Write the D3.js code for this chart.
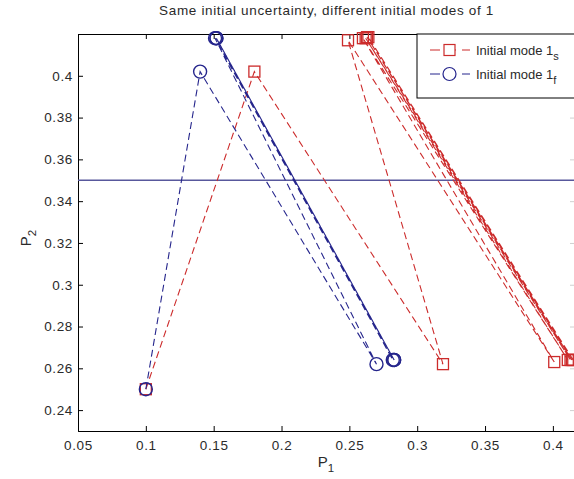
<!DOCTYPE html>
<html><head><meta charset="utf-8">
<script src="https://cdn.jsdelivr.net/npm/d3@7"></script>
<style>
html,body{margin:0;padding:0;background:#fff;}
svg{display:block;font-family:"Liberation Sans",Arial,sans-serif;}
</style></head><body>
<svg id="chart" width="574" height="479"></svg>
<script>
// Axis ticks
const xTicks = [0.05, 0.1, 0.15, 0.2, 0.25, 0.3, 0.35, 0.4];
const yTicks = [0.24, 0.26, 0.28, 0.3, 0.32, 0.34, 0.36, 0.38, 0.4];
const xDomain = [0.05, 0.4163];
const yDomain = [0.23, 0.42];

// Trajectory starting in mode 1_s
const slowP1 = [0.1, 0.18, 0.319, 0.249, 0.401, 0.260, 0.411, 0.262, 0.413, 0.263, 0.414, 0.264, 0.415];
const slowP2 = [0.25, 0.402, 0.262, 0.417, 0.263, 0.418, 0.264, 0.418, 0.264, 0.4185, 0.264, 0.4185, 0.264];
// Trajectory starting in mode 1_f
const fastP1 = [0.1, 0.14, 0.27, 0.151, 0.282, 0.152, 0.283, 0.152, 0.283];
const fastP2 = [0.25, 0.402, 0.262, 0.418, 0.264, 0.418, 0.264, 0.418, 0.264];
// Horizontal reference level for P2
const referenceP2 = 0.35;

const titleText = "Same initial uncertainty, different initial modes of 1";
const legendLabels = ["Initial mode 1", "Initial mode 1"];
const legendSubs = ["s", "f"];

const RED = "#cc2b2b", BLUE = "#25258c";

const svg = d3.select("#chart");
const mLeft = 78, mRight = 575, mTop = 34, mBottom = 431;
const x = d3.scaleLinear().domain(xDomain).range([mLeft, mRight]);
const y = d3.scaleLinear().domain(yDomain).range([mBottom, mTop]);

const fmt = v => String(+v.toFixed(4));

// Axes with inward ticks on all four sides
const gx = svg.append("g").attr("transform", `translate(0,${mBottom})`)
  .call(d3.axisBottom(x).tickValues(xTicks).tickSize(-5).tickPadding(9).tickFormat(fmt));
const gxt = svg.append("g").attr("transform", `translate(0,${mTop})`)
  .call(d3.axisTop(x).tickValues(xTicks).tickSize(-5).tickFormat(""));
const gy = svg.append("g").attr("transform", `translate(${mLeft},0)`)
  .call(d3.axisLeft(y).tickValues(yTicks).tickSize(-5).tickPadding(5).tickFormat(fmt));
const gyr = svg.append("g").attr("transform", `translate(${mRight},0)`)
  .call(d3.axisRight(y).tickValues(yTicks).tickSize(-5).tickFormat(""));

[gx, gxt, gy, gyr].forEach(g => {
  g.select(".domain").attr("stroke", "#000").attr("stroke-width", 1);
  g.selectAll(".tick line").attr("stroke", "#000");
  g.selectAll(".tick text").attr("fill", "#2a2a2a").attr("font-size", 13.5)
    .attr("letter-spacing", "0.65px")
    .attr("font-family", "'Liberation Sans',Arial,sans-serif");
});
gyr.selectAll(".tick line").attr("stroke", "#d0d0d0");

// Reference line
svg.append("line")
  .attr("x1", mLeft).attr("x2", mRight)
  .attr("y1", y(referenceP2)).attr("y2", y(referenceP2))
  .attr("stroke", "#58589c").attr("stroke-width", 1.6);

const line = d3.line().x(d => x(d[0])).y(d => y(d[1]));

function drawSeries(p1, p2, color, shape) {
  const pts = p1.map((v, i) => [v, p2[i]]);
  svg.append("path").datum(pts)
    .attr("d", line).attr("fill", "none")
    .attr("stroke", color).attr("stroke-width", 1.1)
    .attr("stroke-dasharray", "7,4");
  const g = svg.append("g");
  if (shape === "square") {
    g.selectAll("rect").data(pts).join("rect")
      .attr("x", d => x(d[0]) - 5.5).attr("y", d => y(d[1]) - 5.5)
      .attr("width", 11).attr("height", 11)
      .attr("fill", "none").attr("stroke", color).attr("stroke-width", 1.3);
  } else {
    g.selectAll("circle").data(pts).join("circle")
      .attr("cx", d => x(d[0])).attr("cy", d => y(d[1])).attr("r", 6.5)
      .attr("fill", "none").attr("stroke", color).attr("stroke-width", 1.4);
  }
}
drawSeries(slowP1, slowP2, RED, "square");
drawSeries(fastP1, fastP2, BLUE, "circle");

// Legend
const lg = svg.append("g");
lg.append("rect").attr("x", 417).attr("y", mTop).attr("width", 170).attr("height", 64)
  .attr("fill", "#fff").attr("stroke", "#000").attr("stroke-width", 1);
const legendColors = [RED, BLUE];
const legendShapes = ["square", "circle"];
legendLabels.forEach((lab, i) => {
  const cy = 50 + i * 24;
  lg.append("line").attr("x1", 430).attr("x2", 470).attr("y1", cy).attr("y2", cy)
    .attr("stroke", legendColors[i]).attr("stroke-dasharray", "10,6");
  if (legendShapes[i] === "square") {
    lg.append("rect").attr("x", 444).attr("y", cy - 5.5).attr("width", 11).attr("height", 11)
      .attr("fill", "#fff").attr("stroke", legendColors[i]).attr("stroke-width", 1.2);
  } else {
    lg.append("circle").attr("cx", 449.5).attr("cy", cy).attr("r", 6.5)
      .attr("fill", "#fff").attr("stroke", legendColors[i]).attr("stroke-width", 1.2);
  }
  const t = lg.append("text").attr("x", 476).attr("y", cy + 5)
    .attr("font-size", 13).attr("fill", "#2a2a2a").text(lab);
  t.append("tspan").attr("dy", 5).attr("font-size", 11).text(legendSubs[i]);
});

// Title and axis labels
svg.append("text").attr("x", (mLeft + mRight) / 2).attr("y", 15)
  .attr("text-anchor", "middle").attr("font-size", 13.5).attr("letter-spacing", "0.65px")
  .attr("fill", "#2a2a2a").text(titleText);

const xl = svg.append("text").attr("x", 326).attr("y", 467)
  .attr("text-anchor", "middle").attr("font-size", 15).attr("fill", "#2a2a2a").text("P");
xl.append("tspan").attr("dy", 5).attr("font-size", 11.5).text("1");

const yl = svg.append("text").attr("transform", "translate(31,238) rotate(-90)")
  .attr("text-anchor", "middle").attr("font-size", 15).attr("fill", "#2a2a2a").text("P");
yl.append("tspan").attr("dy", 5).attr("font-size", 11.5).text("2");
</script>
</body></html>
